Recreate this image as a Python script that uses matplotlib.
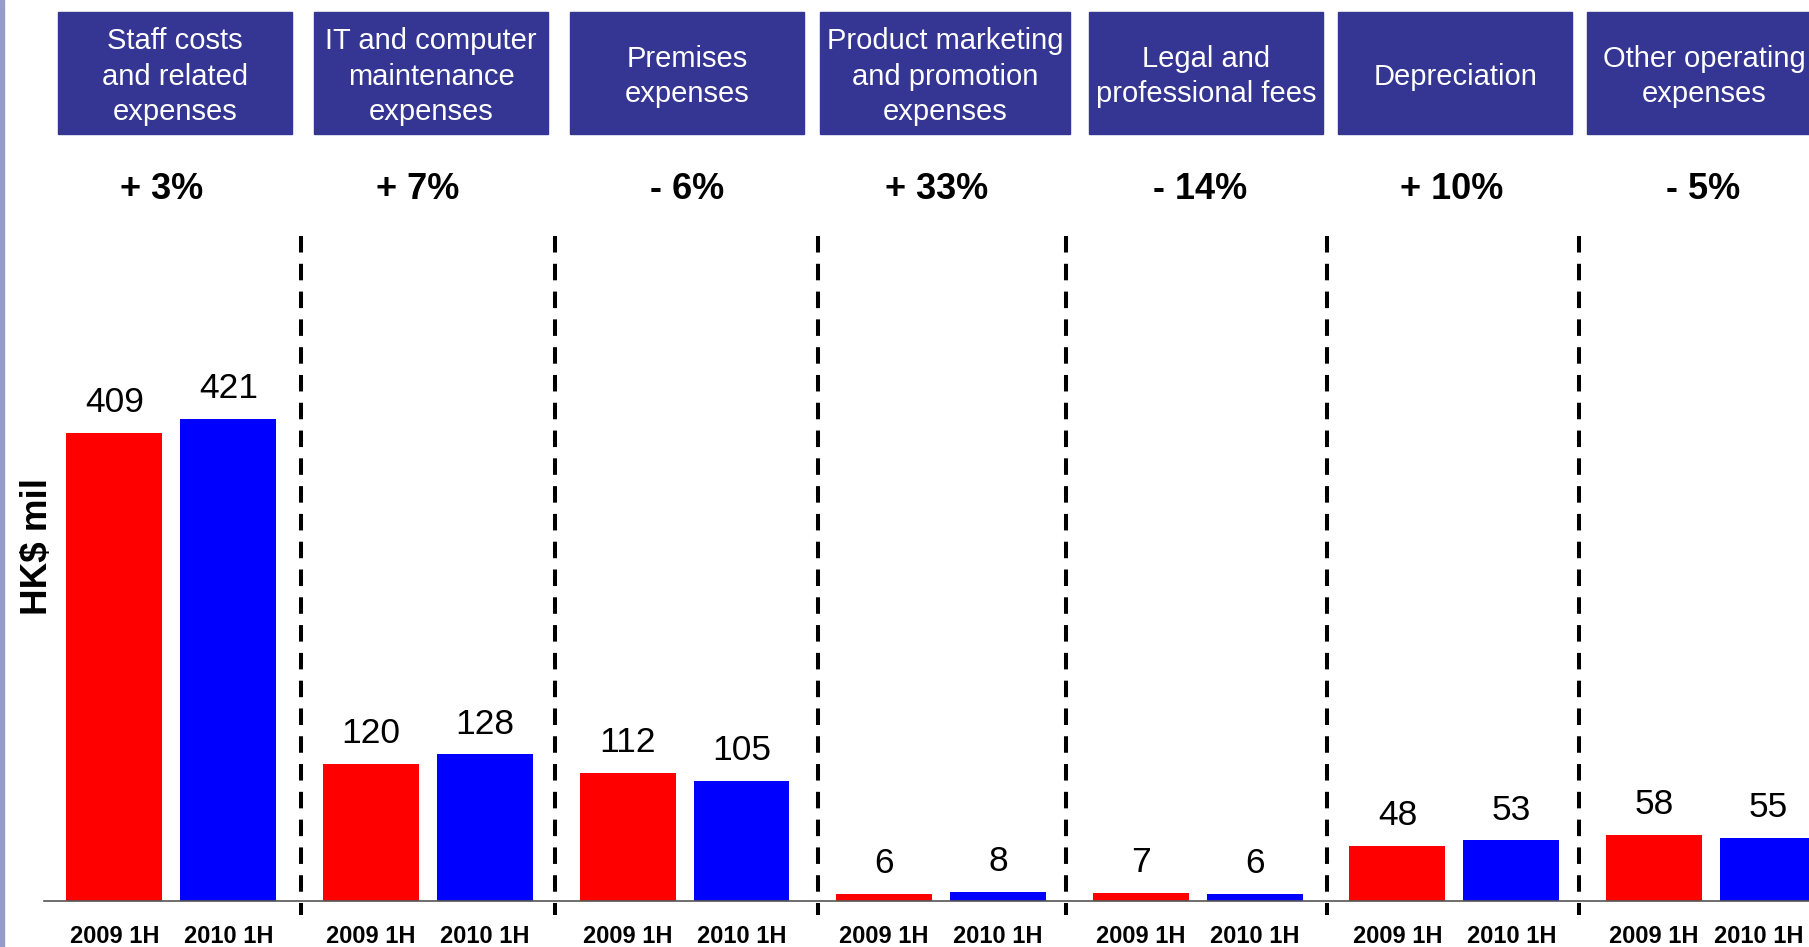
import matplotlib
matplotlib.use('Agg')
import matplotlib.pyplot as plt
from matplotlib.patches import Rectangle
from matplotlib.transforms import ScaledTranslation
import numpy as np

plt.rcParams['font.family'] = ['Liberation Sans', 'DejaVu Sans']

categories = ['Staff costs\nand related\nexpenses',
              'IT and computer\nmaintenance\nexpenses',
              'Premises\nexpenses',
              'Product marketing\nand promotion\nexpenses',
              'Legal and\nprofessional fees',
              'Depreciation',
              'Other operating\nexpenses']
changes = ['+ 3%', '+ 7%', '- 6%', '+ 33%', '- 14%', '+ 10%', '- 5%']
h1_2009 = [409, 120, 112, 6, 7, 48, 58]
h1_2010 = [421, 128, 105, 8, 6, 53, 55]
period_labels = ['2009 1H', '2010 1H']

# small layout nudges (slide was hand-placed)
box_shift = [0.014, 0.012, 0.009, 0.015, 0.032, 0.003, -0.027]
pct_shift = [-0.038, -0.04, 0.012, -0.017, 0.009, -0.011, -0.031]
sep_shift = [0.005, -0.005, 0.02, -0.013, 0.004, -0.014]

fig = plt.figure(figsize=(18.09, 9.47), dpi=100)
ax = fig.add_axes([0, 46 / 947, 1, 901 / 947])

x = np.arange(len(categories))
off = 0.222
w = 0.374

ax.bar(x - off, h1_2009, w, color='#ff0000')
ax.bar(x + off, h1_2010, w, color='#0000ff')

ax.set_xlim(-0.6676, 6.382)
ax.set_ylim(0, 787)

for i in range(len(categories)):
    ax.text(x[i] - off, h1_2009[i] + 12, str(h1_2009[i]), ha='center', va='bottom',
            fontsize=25.5)
    ax.text(x[i] + off, h1_2010[i] + 12, str(h1_2010[i]), ha='center', va='bottom',
            fontsize=25.5)

# header boxes and change labels
tr = ax.get_xaxis_transform()
for i, cat in enumerate(categories):
    bw = 0.978 if i == 3 else 0.912
    cx = x[i] + box_shift[i]
    ax.add_patch(Rectangle((cx - bw / 2, 0.8513), bw, 0.9872 - 0.8513,
                           transform=tr, color='#353594', clip_on=False))
    ax.text(cx, 0.915, cat, transform=tr, ha='center', va='center',
            color='white', fontsize=21, linespacing=1.33)
    ax.text(x[i] + pct_shift[i], 0.7895, changes[i], transform=tr, ha='center',
            va='center', fontsize=26, fontweight='bold')

# dashed separators
for i in range(len(categories) - 1):
    sx = x[i] + 0.5 + sep_shift[i]
    ax.plot([sx, sx], [0.738, -0.0155], transform=tr, color='black',
            lw=2.9, dashes=(4.1, 2.8), clip_on=False)

ax.set_xticks(np.concatenate([x - off, x + off]))
ax.set_xticklabels([period_labels[0]] * len(x) + [period_labels[1]] * len(x),
                   fontsize=17, fontweight='bold')
ax.tick_params(axis='x', length=0, pad=17)
ax.set_yticks([])

# last label sits against the right edge, pull it in a little
last = ax.get_xticklabels()[-1]
last.set_transform(last.get_transform() + ScaledTranslation(-0.09, 0, fig.dpi_scale_trans))

for s in ['top', 'right', 'left']:
    ax.spines[s].set_visible(False)
ax.spines['bottom'].set_color('#555555')
ax.spines['bottom'].set_linewidth(1.2)
ax.spines['bottom'].set_bounds(-0.496, 6.382)

ax.text(0.021, 0.393, 'HK$ mil', transform=ax.transAxes, rotation=90,
        ha='center', va='center', fontsize=26.5, fontweight='bold')

fig.patches.append(Rectangle((0, 0), 4 / 1809, 1, transform=fig.transFigure,
                             color='#959cc5'))

fig.savefig('out.png', dpi=100)
